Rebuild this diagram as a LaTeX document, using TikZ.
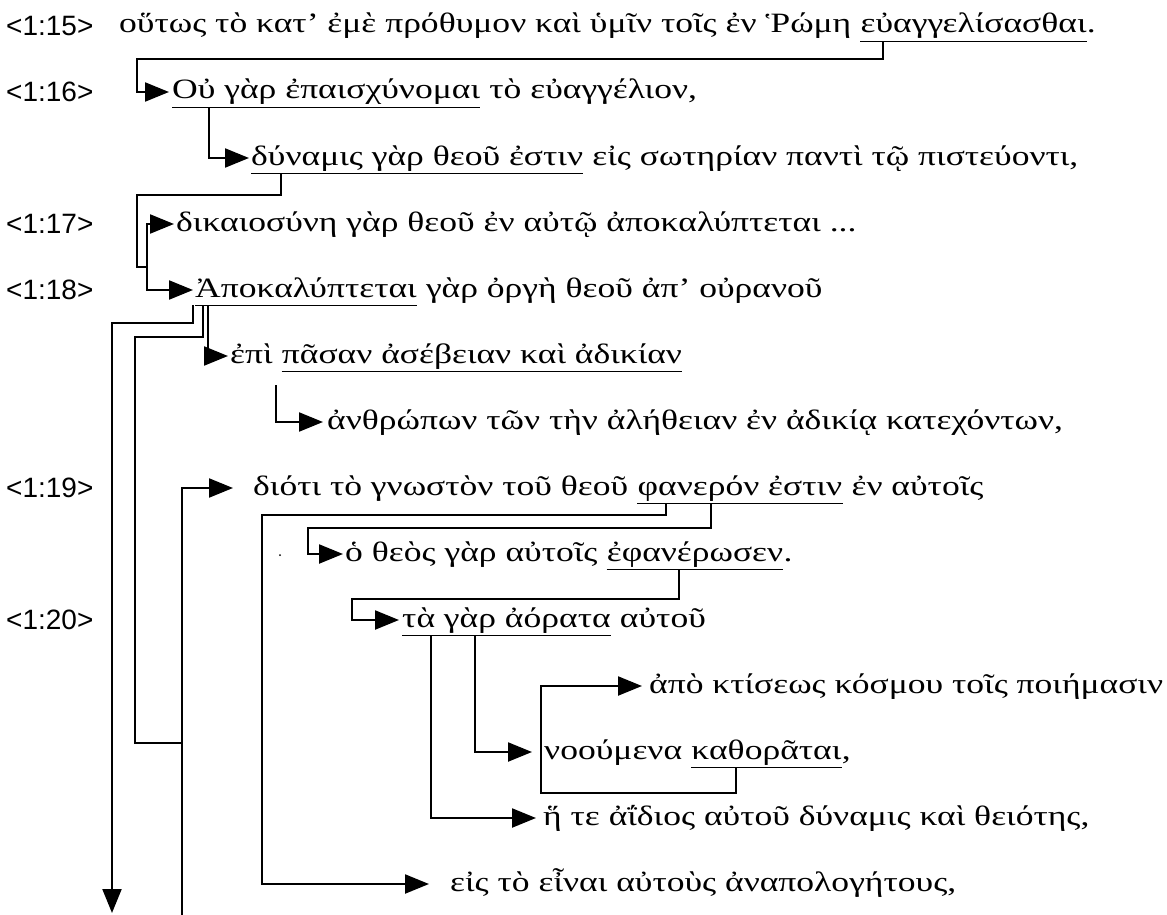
\documentclass[tikz,border=0pt]{standalone}
\usepackage{fontspec}
\setmainfont{Liberation Serif}[FakeStretch=1.27]
\newfontfamily\lblfont{Liberation Sans}
\usetikzlibrary{arrows.meta,positioning,calc}
\begin{document}
\begin{tikzpicture}[x=1pt,y=-1pt,
  txt/.style={inner sep=0pt, text height=22pt, text depth=8pt, anchor=west, font=\fontsize{28}{28}\selectfont},
  lbl/.style={inner sep=0pt, anchor=west, font=\lblfont\fontsize{28}{28}\selectfont},
  con/.style={line width=2.2pt, line join=miter},
  arr/.style={con, -{Triangle[length=24pt,width=19pt]}},
  ul/.style={line width=1.3pt}]
\useasboundingbox (0,0) rectangle (1167,915);
% labels
\node[lbl] (l15) at (6,26) {<1:15>};
\node[lbl] (l16) at (6,92) {<1:16>};
\node[lbl] (l17) at (6,224) {<1:17>};
\node[lbl] (l18) at (6,290) {<1:18>};
\node[lbl] (l19) at (6,488) {<1:19>};
\node[lbl] (l20) at (6,620) {<1:20>};
% rows
\node[txt] (r1a) at (119,26) {οὕτως τὸ κατ’ ἐμὲ πρόθυμον καὶ ὑμῖν τοῖς ἐν Ῥώμη\ \null};
\node[txt, right=0pt of r1a] (r1u) {εὐαγγελίσασθαι};
\node[txt, right=0pt of r1u] (r1b) {.};
\node[txt] (r2u) at (172,92) {Οὐ γὰρ ἐπαισχύνομαι};
\node[txt, right=0pt of r2u] (r2b) {\ τὸ εὐαγγέλιον,};
\node[txt] (r3u) at (251,158) {δύναμις γὰρ θεοῦ ἐστιν};
\node[txt, right=0pt of r3u] (r3b) {\ εἰς σωτηρίαν παντὶ τῷ πιστεύοντι,};
\node[txt] (r4) at (176,224) {δικαιοσύνη γὰρ θεοῦ ἐν αὐτῷ ἀποκαλύπτεται ...};
\node[txt] (r5u) at (195,290) {Ἀποκαλύπτεται};
\node[txt, right=0pt of r5u] (r5b) {\ γὰρ ὀργὴ θεοῦ ἀπ’ οὐρανοῦ};
\node[txt] (r6a) at (230,356) {ἐπὶ\ \null};
\node[txt, right=0pt of r6a] (r6u) {πᾶσαν ἀσέβειαν καὶ ἀδικίαν};
\node[txt] (r7) at (327,422) {ἀνθρώπων τῶν τὴν ἀλήθειαν ἐν ἀδικίᾳ κατεχόντων,};
\node[txt] (r8a) at (253,488) {διότι τὸ γνωστὸν τοῦ θεοῦ\ \null};
\node[txt, right=0pt of r8a] (r8u) {φανερόν ἐστιν};
\node[txt, right=0pt of r8u] (r8b) {\ ἐν αὐτοῖς};
\node[txt] (r9a) at (345,554) {ὁ θεὸς γὰρ αὐτοῖς\ \null};
\node[txt, right=0pt of r9a] (r9u) {ἐφανέρωσεν};
\node[txt, right=0pt of r9u] (r9b) {.};
\node[txt] (r10u) at (402,620) {τὰ γὰρ ἀόρατα};
\node[txt, right=0pt of r10u] (r10b) {\ αὐτοῦ};
\node[txt] (r11) at (649,686) {ἀπὸ κτίσεως κόσμου τοῖς ποιήμασιν};
\node[txt] (r12a) at (544,752) {νοούμενα\ \null};
\node[txt, right=0pt of r12a] (r12u) {καθορᾶται};
\node[txt, right=0pt of r12u] (r12b) {,};
\node[txt] (r13) at (543,818) {ἥ τε ἀΐδιος αὐτοῦ δύναμις καὶ θειότης,};
\node[txt] (r14) at (450,884) {εἰς τὸ εἶναι αὐτοὺς ἀναπολογήτους,};
% underlines
\foreach \n in {r1u,r2u,r3u,r5u,r6u,r8u,r9u,r10u,r12u}
  \draw[ul] (\n.south west) -- (\n.south east);
% connectors
\draw[arr] ($(r1u.south west)!0.10!(r1u.south east)$) |- (137,59) |- ([xshift=-3pt]r2u.west);
\draw[arr] ($(r2u.south west)!0.12!(r2u.south east)$) |- ([xshift=-2pt]r3u.west);
\coordinate (j3) at (147,267);
\draw[con] ($(r3u.south west)!0.09!(r3u.south east)$) |- (137,195) |- (j3);
\draw[arr] (j3) |- ([xshift=-2pt]r4.west);
\draw[arr] (j3) |- ([xshift=-2pt]r5u.west);
\coordinate (endA) at (112,913);
\draw[arr] ([xshift=-2pt]r5u.south west) |- (112,323) -- (endA);
\draw[con] ([xshift=8pt]r5u.south west) |- (135,337) |- (182,743);
\coordinate (endB) at (182,916);
\draw[arr] (endB) |- ([xshift=-20pt]r8a.west);
\draw[arr] ([xshift=13pt]r5u.south west) |- ([xshift=-2pt]r6a.west);
\draw[arr] ([xshift=-6pt,yshift=-14pt]r6u.south west) |- ([xshift=-4pt]r7.west);
\draw[arr] ($(r8u.south west)!0.14!(r8u.south east)$) |- (262,515) |- ([xshift=-21pt]r14.west);
\draw[arr] ($(r8u.south west)!0.36!(r8u.south east)$) |- (308,528) |- ([xshift=-2pt]r9a.west);
\draw[arr] ($(r9u.south west)!0.41!(r9u.south east)$) |- (352,599) |- ([xshift=-3pt]r10u.west);
\draw[arr] ($(r10u.south west)!0.14!(r10u.south east)$) |- ([xshift=-7pt]r13.west);
\draw[arr] ($(r10u.south west)!0.35!(r10u.south east)$) |- ([xshift=-12pt]r12a.west);
\draw[arr] ($(r12u.south west)!0.30!(r12u.south east)$) |- (541,793) |- ([xshift=-7pt]r11.west);
\fill (280,555) circle (1pt);
\end{tikzpicture}
\end{document}
